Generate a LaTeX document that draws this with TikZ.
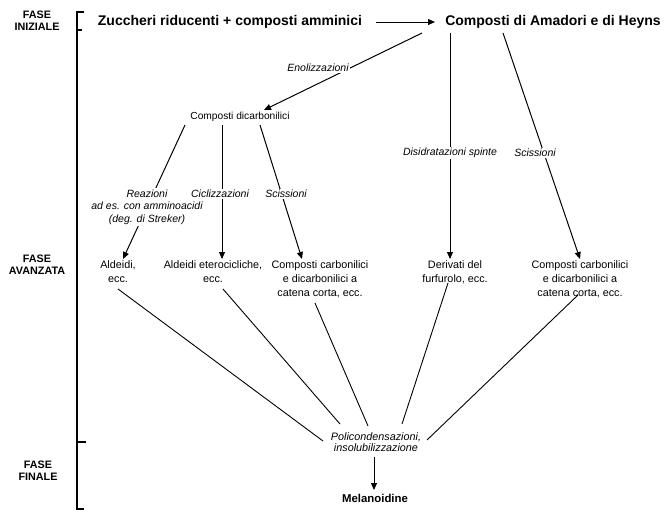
\documentclass[tikz,border=0pt]{standalone}
\usepackage{fontspec}
\setmainfont{Liberation Sans}
\usetikzlibrary{arrows.meta}
\tikzset{
  mainbox/.style={font=\bfseries\fontsize{14}{16}\selectfont, inner sep=0pt},
  phase/.style={font=\bfseries\fontsize{10.8}{12}\selectfont, align=center, inner sep=0pt},
  prod/.style={font=\fontsize{10.8}{14}\selectfont, align=center, inner sep=0pt},
  lab/.style={font=\itshape\fontsize{10.5}{12.5}\selectfont, align=center, fill=white, inner sep=1.5pt},
  arr/.style={line width=1pt, -{Triangle[length=7pt,width=6pt]}},
  conn/.style={line width=0.9pt},
  brk/.style={line width=1.5pt}
}
\begin{document}
\begin{tikzpicture}[x=1pt,y=-1pt]
\useasboundingbox[fill=white] (0,0) rectangle (672,522);

% phase labels
\node[phase] (fi) at (37,21) {FASE\\INIZIALE};
\node[phase] (fa) at (37,265) {FASE\\AVANZATA};
\node[phase] (ff) at (38,471) {FASE\\FINALE};

% bracket
\coordinate (bt) at (77,12);
\coordinate (bb) at (77,509);
\draw[brk] (84,12) -- (bt) -- (bb) -- (84,509);
\draw[brk] (77,30) -- (82,30);
\draw[brk] (77,442) -- (86,442);

% top row
\node[mainbox] (zuc) at (230,22) {Zuccheri riducenti + composti amminici};
\node[mainbox] (ama) at (553,22) {Composti di Amadori e di Heyns};
\draw[arr, shorten <=14pt, shorten >=10pt] (zuc.east) -- (ama.west);

\node[prod, font=\fontsize{10.2}{12}\selectfont] (dic) at (240,117) {Composti dicarbonilici};

% coordinates
\coordinate (a1) at (422,33);
\coordinate (a2) at (450,33);
\coordinate (a3) at (503,33);
\coordinate (d0) at (264,110);
\coordinate (d1) at (185,125);
\coordinate (d2) at (222,125);
\coordinate (d3) at (260,125);

% products
\node[prod] (ald) at (118,272) {Aldeidi,\\ecc.};
\node[prod] (alde) at (213,272) {Aldeidi eterocicliche,\\ecc.};
\node[prod] (cc1) at (320,279) {Composti carbonilici\\e dicarbonilici a\\catena corta, ecc.};
\node[prod] (der) at (455,272) {Derivati del\\furfurolo, ecc.};
\node[prod] (cc2) at (580,279) {Composti carbonilici\\e dicarbonilici a\\catena corta, ecc.};

\coordinate (t1) at (123,259);
\coordinate (t2) at (222,259);
\coordinate (t3) at (302,259);
\coordinate (t4) at (450,259);
\coordinate (t5) at (580,259);

\draw[arr] (a1) -- (d0);
\draw[arr] (d1) -- (t1);
\draw[arr] (d2) -- (t2);
\draw[arr] (d3) -- (t3);
\draw[arr] (a2) -- (t4);
\draw[arr] (a3) -- (t5);

% labels on arrows
\node[lab] (eno) at (318,68) {Enolizzazioni};
\node[lab] (rea) at (147,207) {Reazioni\\ad es. con amminoacidi\\(deg. di Streker)};
\node[lab] (cic) at (220,194) {Ciclizzazioni};
\node[lab] (sc1) at (286,194) {Scissioni};
\node[lab] (dis) at (450,153) {Disidratazioni spinte};
\node[lab] (sc2) at (535,153) {Scissioni};

% final phase
\node[prod, font=\itshape\fontsize{10.8}{11.5}\selectfont] (pol) at (376,442) {Policondensazioni,\\insolubilizzazione};
\node[mainbox, font=\bfseries\fontsize{11.4}{13}\selectfont] (mel) at (375,498) {Melanoidine};

\coordinate (s1) at (118,289);
\coordinate (s2) at (223,289);
\coordinate (s3) at (315,303);
\coordinate (s4) at (448,283);
\coordinate (s5) at (578,295);
\coordinate (p1) at (323,441);
\coordinate (p2) at (340,424);
\coordinate (p3) at (368,426);
\coordinate (p4) at (402,424);
\coordinate (p5) at (427,440);
\draw[conn] (s1) -- (p1);
\draw[conn] (s2) -- (p2);
\draw[conn] (s3) -- (p3);
\draw[conn] (s4) -- (p4);
\draw[conn] (s5) -- (p5);

\coordinate (m0) at (374,457);
\coordinate (m1) at (374,490);
\draw[arr] (m0) -- (m1);
\end{tikzpicture}
\end{document}
